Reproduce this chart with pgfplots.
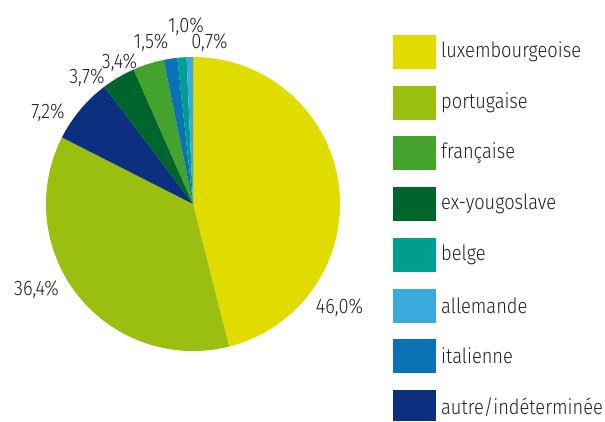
\documentclass[border=0pt]{standalone}
\usepackage{pgfplots}
\pgfplotsset{compat=1.18}
\usepackage{pgfplotstable}
\usepackage{fontspec}
\setmainfont[FakeStretch=0.87]{Fira Sans Light}
\definecolor{cLux}{HTML}{E0DC00}
\definecolor{cPor}{HTML}{9BBF10}
\definecolor{cFra}{HTML}{43A32D}
\definecolor{cYug}{HTML}{00642D}
\definecolor{cBel}{HTML}{009E91}
\definecolor{cAll}{HTML}{3AA9DC}
\definecolor{cIta}{HTML}{0A72B5}
\definecolor{cAut}{HTML}{0D2F7F}
\definecolor{txt}{HTML}{231F20}
\tikzset{lbl/.style={font=\fontsize{21}{24}\selectfont, text=txt, inner sep=0pt}}
% slices, clockwise from 12 o'clock
\pgfplotstableread{
value color
46.0 cLux
36.4 cPor
7.2 cAut
3.7 cYug
3.4 cFra
1.5 cIta
1.0 cBel
0.7 cAll
}\pietable
\begin{document}
\begin{tikzpicture}
\begin{axis}[
  scale only axis, width=605pt, height=421pt,
  xmin=0, xmax=605, ymin=0, ymax=421,
  axis lines=none, clip=false,
]
\addplot[draw=none] coordinates {(0,0)};
\path (axis cs:0,0) rectangle (axis cs:605,421);
\pgfplotstablegetrowsof{\pietable}
\pgfmathtruncatemacro\N{\pgfplotsretval-1}
\def\cum{0}
\def\total{99.9}
\pgfplotsforeachungrouped \i in {0,...,\N}{%
  \pgfplotstablegetelem{\i}{value}\of\pietable \let\v\pgfplotsretval
  \pgfplotstablegetelem{\i}{color}\of\pietable \let\c\pgfplotsretval
  \pgfmathsetmacro\a{90-\cum/\total*360}%
  \pgfmathsetmacro\b{90-(\cum+\v)/\total*360}%
  \edef\temp{\noexpand\fill[\c] (axis cs:193,217) -- ++(\a:147pt) arc[start angle=\a, end angle=\b, radius=147pt] -- cycle;}%
  \temp
  \pgfmathsetmacro\cum{\cum+\v}%
}
% value labels
\node[lbl] at (axis cs:339.5,113) {46,0\%};
\node[lbl] at (axis cs:36.5,131) {36,4\%};
\node[lbl] at (axis cs:48,308) {7,2\%};
\node[lbl] at (axis cs:87,343) {3,7\%};
\node[lbl] at (axis cs:119.5,358) {3,4\%};
\node[lbl] at (axis cs:151,378) {1,5\%};
\node[lbl] at (axis cs:186,394) {1,0\%};
\node[lbl] at (axis cs:209.5,378) {0,7\%};
% legend
\fill[cLux] (axis cs:393,386) rectangle (axis cs:436,352);
\fill[cPor] (axis cs:393,335.3) rectangle (axis cs:436,301.3);
\fill[cFra] (axis cs:393,284.6) rectangle (axis cs:436,250.6);
\fill[cYug] (axis cs:393,233.9) rectangle (axis cs:436,199.9);
\fill[cBel] (axis cs:393,183.2) rectangle (axis cs:436,149.2);
\fill[cAll] (axis cs:393,132.5) rectangle (axis cs:436,98.5);
\fill[cIta] (axis cs:393,81.8) rectangle (axis cs:436,47.8);
\fill[cAut] (axis cs:393,31.1) rectangle (axis cs:436,0);
\node[lbl,anchor=west] at (axis cs:441,369) {luxembourgeoise};
\node[lbl,anchor=west] at (axis cs:441,318.3) {portugaise};
\node[lbl,anchor=west] at (axis cs:441,267.6) {française};
\node[lbl,anchor=west] at (axis cs:441,216.9) {ex-yougoslave};
\node[lbl,anchor=west] at (axis cs:441,166.2) {belge};
\node[lbl,anchor=west] at (axis cs:441,115.5) {allemande};
\node[lbl,anchor=west] at (axis cs:441,64.8) {italienne};
\node[lbl,anchor=west] at (axis cs:441,14.1) {autre/indéterminée};
\end{axis}
\end{tikzpicture}
\end{document}
